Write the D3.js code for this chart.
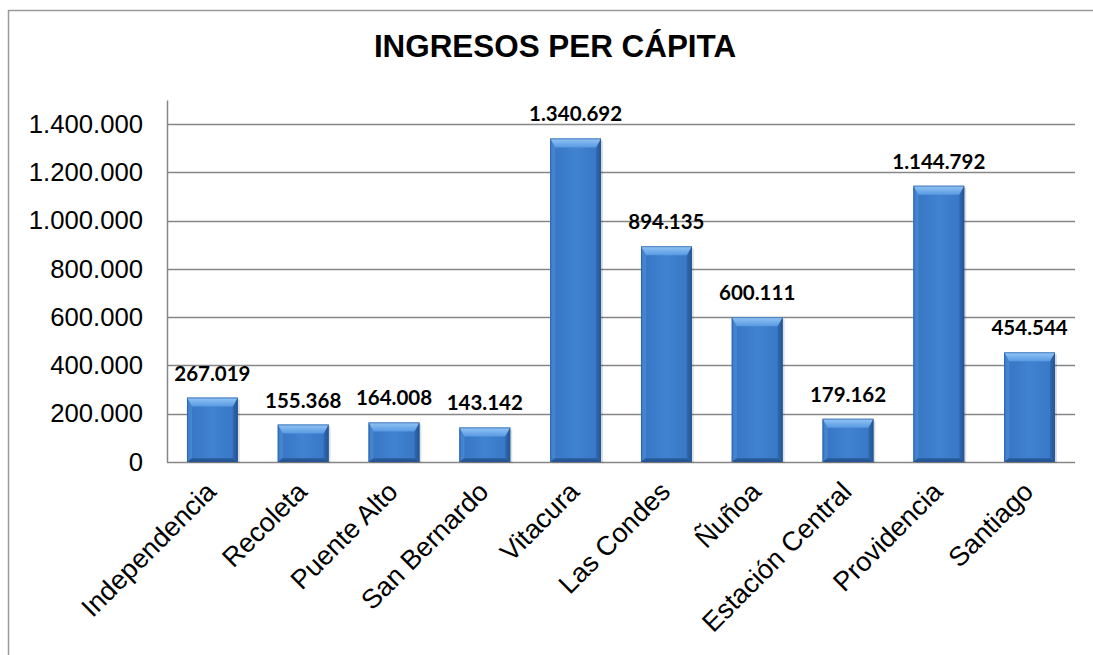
<!DOCTYPE html>
<html>
<head>
<meta charset="utf-8">
<script src="https://cdn.jsdelivr.net/npm/d3@7"></script>
<style>
  html, body { margin: 0; padding: 0; background: #fff; }
  svg { display: block; }
</style>
</head>
<body>
<svg id="chart" width="1093" height="655"></svg>
<script>
const title = "INGRESOS PER CÁPITA";
const categories = ["Independencia", "Recoleta", "Puente Alto", "San Bernardo", "Vitacura", "Las Condes", "Ñuñoa", "Estación Central", "Providencia", "Santiago"];
const values = [267019, 155368, 164008, 143142, 1340692, 894135, 600111, 179162, 1144792, 454544];
const tickValues = [0, 200000, 400000, 600000, 800000, 1000000, 1200000, 1400000];
const yMax = 1500000;

const svg = d3.select("#chart");
const W = 1093, H = 655;
const plot = { left: 167, right: 1075, top: 100, bottom: 462 };

const fmt = v => d3.format(",")(v).replace(/,/g, ".");

// Outer border (top and left visible)
svg.append("path")
  .attr("d", `M8.5,${H} L8.5,10.5 L${W},10.5`)
  .attr("fill", "none").attr("stroke", "#9a9a9a").attr("stroke-width", 1.5);

// Title
svg.append("text")
  .attr("x", 555).attr("y", 57)
  .attr("text-anchor", "middle")
  .attr("font-family", "Liberation Sans, Arial, sans-serif")
  .attr("font-weight", "bold").attr("font-size", 31.4)
  .attr("fill", "#000")
  .text(title);

const x = d3.scaleBand().domain(categories).range([plot.left, plot.right]).paddingInner(0.44).paddingOuter(0.22);
const y = d3.scaleLinear().domain([0, yMax]).range([plot.bottom, plot.top]);

// Gridlines
svg.append("g").selectAll("line").data(tickValues.filter(d => d > 0)).join("line")
  .attr("x1", plot.left).attr("x2", plot.right)
  .attr("y1", d => Math.round(y(d)) + 0.5).attr("y2", d => Math.round(y(d)) + 0.5)
  .attr("stroke", "#868686").attr("stroke-width", 1.5);

// Y axis
const yAxis = d3.axisLeft(y).tickValues(tickValues).tickFormat(fmt).tickSize(0).tickPadding(24);
const gy = svg.append("g").attr("transform", `translate(${plot.left},0)`).call(yAxis);
gy.select(".domain").attr("stroke", "#868686").attr("stroke-width", 1.5);
gy.selectAll("text")
  .attr("font-family", "Liberation Sans, Arial, sans-serif")
  .attr("font-size", 25.7).attr("fill", "#000");

// X axis line
svg.append("line")
  .attr("x1", plot.left).attr("x2", plot.right)
  .attr("y1", plot.bottom + 0.5).attr("y2", plot.bottom + 0.5)
  .attr("stroke", "#868686").attr("stroke-width", 1.5);

// Gradients
const defs = svg.append("defs");
const body = defs.append("linearGradient").attr("id", "body").attr("x1", 0).attr("x2", 1).attr("y1", 0).attr("y2", 0);
[[0, "#3674c2"], [0.5, "#4083d0"], [1, "#3776c4"]].forEach(([o, c]) => body.append("stop").attr("offset", o).attr("stop-color", c));
const topG = defs.append("linearGradient").attr("id", "topbev").attr("x1", 0).attr("x2", 0).attr("y1", 0).attr("y2", 1);
[[0, "#94c6f6"], [1, "#5899e2"]].forEach(([o, c]) => topG.append("stop").attr("offset", o).attr("stop-color", c));
const leftG = defs.append("linearGradient").attr("id", "leftbev").attr("x1", 0).attr("x2", 1).attr("y1", 0).attr("y2", 0);
[[0, "#3c7bc9"], [1, "#4788d4"]].forEach(([o, c]) => leftG.append("stop").attr("offset", o).attr("stop-color", c));
const rightG = defs.append("linearGradient").attr("id", "rightbev").attr("x1", 0).attr("x2", 1).attr("y1", 0).attr("y2", 0);
[[0, "#306ab2"], [1, "#235492"]].forEach(([o, c]) => rightG.append("stop").attr("offset", o).attr("stop-color", c));
const botG = defs.append("linearGradient").attr("id", "botbev").attr("x1", 0).attr("x2", 0).attr("y1", 0).attr("y2", 1);
[[0, "#2e65aa"], [1, "#204b84"]].forEach(([o, c]) => botG.append("stop").attr("offset", o).attr("stop-color", c));

const data = categories.map((c, i) => ({ c, v: values[i] }));
const bars = svg.append("g").selectAll("g").data(data).join("g");

bars.each(function(d) {
  const g = d3.select(this);
  const x0 = x(d.c), w = x.bandwidth();
  const y0 = y(d.v), h = y(0) - y(d.v);
  const bt = Math.min(9, h / 3), bs = 5, bb = 4;
  g.append("rect").attr("x", x0 + 2).attr("y", y0 + 2).attr("width", w).attr("height", h - 1)
    .attr("fill", "#000").attr("opacity", 0.12);
  g.append("rect").attr("x", x0).attr("y", y0).attr("width", w).attr("height", h).attr("fill", "url(#body)");
  g.append("polygon").attr("points", `${x0},${y0} ${x0 + bs},${y0 + bt} ${x0 + bs},${y0 + h - bb} ${x0},${y0 + h}`).attr("fill", "url(#leftbev)");
  g.append("polygon").attr("points", `${x0 + w},${y0} ${x0 + w - bs},${y0 + bt} ${x0 + w - bs},${y0 + h - bb} ${x0 + w},${y0 + h}`).attr("fill", "url(#rightbev)");
  g.append("polygon").attr("points", `${x0},${y0 + h} ${x0 + bs},${y0 + h - bb} ${x0 + w - bs},${y0 + h - bb} ${x0 + w},${y0 + h}`).attr("fill", "url(#botbev)");
  g.append("polygon").attr("points", `${x0},${y0} ${x0 + w},${y0} ${x0 + w - bs},${y0 + bt} ${x0 + bs},${y0 + bt}`).attr("fill", "url(#topbev)");
  g.append("rect").attr("x", x0 + 0.5).attr("y", y0 + 0.5).attr("width", w - 1).attr("height", h - 1)
    .attr("fill", "none").attr("stroke", "#2a5c9c").attr("stroke-width", 1).attr("opacity", 0.6);
});

// Data labels
svg.append("g").selectAll("text").data(data).join("text")
  .attr("x", d => x(d.c) + x.bandwidth() / 2)
  .attr("y", d => y(d.v) - 17)
  .attr("text-anchor", "middle")
  .attr("font-family", "Lato, 'Open Sans', sans-serif")
  .attr("font-weight", "bold").attr("font-size", 20.5).attr("fill", "#000")
  .text(d => fmt(d.v));

// X labels rotated
svg.append("g").selectAll("text").data(categories).join("text")
  .attr("transform", d => `translate(${x(d) + x.bandwidth() / 2 - 9},${plot.bottom + 17}) rotate(-45)`)
  .attr("text-anchor", "end")
  .attr("dy", "0.75em")
  .attr("font-family", "Liberation Sans, Arial, sans-serif")
  .attr("font-size", 27).attr("fill", "#000")
  .text(d => d);
</script>
</body>
</html>
